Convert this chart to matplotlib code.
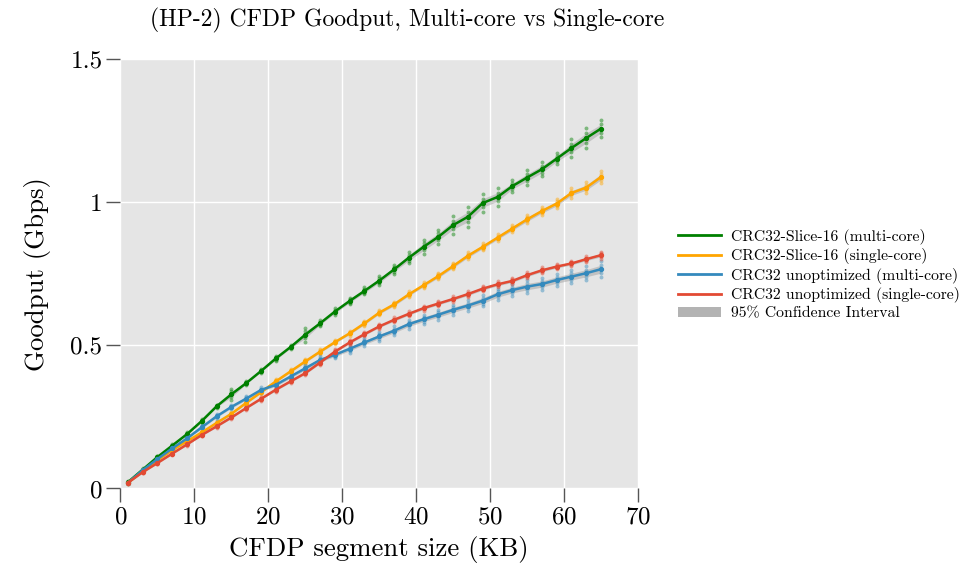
import numpy as np
import matplotlib
matplotlib.use("Agg")
import matplotlib.pyplot as plt
from matplotlib.lines import Line2D
from matplotlib.patches import Patch
from matplotlib.ticker import FuncFormatter

# segment sizes (KB)
seg_kb = list(range(1, 66, 2))

# mean goodput (Gbps) per segment size
slice16_multi = [0.022, 0.066, 0.110, 0.150, 0.190, 0.236, 0.287, 0.329, 0.368, 0.410, 0.454,
                 0.494, 0.537, 0.577, 0.618, 0.655, 0.690, 0.726, 0.765, 0.806, 0.844, 0.879,
                 0.920, 0.949, 0.997, 1.018, 1.056, 1.086, 1.115, 1.152, 1.189, 1.224, 1.257]
slice16_single = [0.020, 0.060, 0.099, 0.134, 0.165, 0.196, 0.229, 0.261, 0.299, 0.336, 0.374,
                  0.409, 0.444, 0.478, 0.511, 0.542, 0.577, 0.614, 0.643, 0.678, 0.710, 0.742,
                  0.777, 0.813, 0.844, 0.876, 0.908, 0.940, 0.969, 0.995, 1.032, 1.051, 1.088]
unopt_multi = [0.020, 0.064, 0.103, 0.140, 0.175, 0.214, 0.252, 0.285, 0.314, 0.344, 0.362,
               0.391, 0.420, 0.449, 0.467, 0.488, 0.510, 0.531, 0.551, 0.574, 0.591, 0.607,
               0.624, 0.639, 0.656, 0.678, 0.693, 0.705, 0.714, 0.728, 0.740, 0.752, 0.766]
unopt_single = [0.020, 0.057, 0.089, 0.122, 0.154, 0.187, 0.217, 0.248, 0.281, 0.313, 0.345,
                0.374, 0.403, 0.440, 0.478, 0.510, 0.539, 0.566, 0.589, 0.610, 0.630, 0.646,
                0.662, 0.679, 0.698, 0.713, 0.725, 0.745, 0.762, 0.775, 0.786, 0.801, 0.815]

# spread of the individual runs around the mean (half range, Gbps)
slice16_multi_spread = [0.004, 0.005, 0.005, 0.006, 0.006, 0.008, 0.006, 0.020, 0.006, 0.006, 0.010,
                        0.008, 0.025, 0.010, 0.012, 0.012, 0.012, 0.015, 0.015, 0.020, 0.025, 0.025,
                        0.030, 0.035, 0.030, 0.030, 0.020, 0.025, 0.025, 0.020, 0.030, 0.035, 0.030]
slice16_single_spread = [0.003, 0.004, 0.004, 0.005, 0.005, 0.005, 0.006, 0.006, 0.006, 0.006, 0.007,
                         0.007, 0.008, 0.008, 0.008, 0.008, 0.009, 0.009, 0.010, 0.010, 0.010, 0.011,
                         0.012, 0.012, 0.012, 0.012, 0.013, 0.014, 0.014, 0.016, 0.016, 0.018, 0.020]
unopt_multi_spread = [0.003, 0.004, 0.005, 0.006, 0.006, 0.007, 0.008, 0.008, 0.009, 0.010, 0.010,
                      0.011, 0.012, 0.012, 0.013, 0.014, 0.014, 0.015, 0.015, 0.016, 0.016, 0.017,
                      0.018, 0.018, 0.020, 0.020, 0.020, 0.022, 0.022, 0.022, 0.024, 0.025, 0.028]
unopt_single_spread = [0.003, 0.004, 0.004, 0.005, 0.005, 0.005, 0.006, 0.006, 0.006, 0.006, 0.007,
                       0.007, 0.007, 0.008, 0.008, 0.008, 0.008, 0.008, 0.009, 0.009, 0.009, 0.009,
                       0.009, 0.010, 0.010, 0.010, 0.010, 0.010, 0.010, 0.010, 0.010, 0.010, 0.012]

series = [
    ("CRC32-Slice-16 (multi-core)", slice16_multi, slice16_multi_spread, "#008000"),
    ("CRC32-Slice-16 (single-core)", slice16_single, slice16_single_spread, "#FFA500"),
    ("CRC32 unoptimized (multi-core)", unopt_multi, unopt_multi_spread, "#348ABD"),
    ("CRC32 unoptimized (single-core)", unopt_single, unopt_single_spread, "#E24A33"),
]

plt.rcParams.update({
    "font.family": "serif",
    "font.serif": ["cmr10"],
    "axes.formatter.use_mathtext": True,
    "mathtext.fontset": "cm",
})

fig = plt.figure(figsize=(9.67, 5.65), dpi=100)
ax = fig.add_axes([0.1246, 0.1354, 0.5352, 0.7602])
ax.set_facecolor("#E5E5E5")
ax.grid(True, color="white", linewidth=1.0)
ax.set_axisbelow(True)
for s in ax.spines.values():
    s.set_visible(False)

x = np.array(seg_kb)
for name, mean, spread, color in series:
    mean = np.array(mean)
    spread = np.array(spread)
    # confidence band
    ax.fill_between(x, mean - spread * 0.5, mean + spread * 0.5, color="#999999",
                    alpha=0.45, linewidth=0, zorder=2)
    # individual runs
    for f in (-1.0, -0.5, 0.5, 1.0):
        ax.scatter(x, mean + f * spread, s=8, color=color, alpha=0.45, linewidths=0, zorder=3)
    ax.plot(x, mean, color=color, linewidth=1.8, marker="o", markersize=2.8, zorder=4)

ax.set_xlim(0, 70)
ax.set_ylim(0, 1.5)
ax.set_xticks(range(0, 71, 10))
ax.set_yticks([0, 0.5, 1, 1.5])
ax.yaxis.set_major_formatter(FuncFormatter(lambda v, p: "%g" % v))
ax.tick_params(axis="both", direction="out", length=10, width=1, color="#555555",
               labelsize=18, pad=3)

ax.set_xlabel("CFDP segment size (KB)", fontsize=19.3, labelpad=5)
ax.set_ylabel("Goodput (Gbps)", fontsize=19.3, labelpad=14)
fig.text(150 / 967, 1 - 20 / 565, "(HP-2) CFDP Goodput, Multi-core vs Single-core",
         fontsize=17, ha="left", va="center")

handles = [Line2D([], [], color=c, linewidth=2) for _, _, _, c in series]
handles.append(Patch(facecolor="#B3B3B3", edgecolor="none"))
labels = [n for n, _, _, _ in series] + ["95% Confidence Interval"]
fig.legend(handles, labels, loc="center left", bbox_to_anchor=(0.695, 0.514),
           frameon=False, fontsize=11.3, handlelength=2.7, handletextpad=0.65,
           labelspacing=0.22, borderaxespad=0)

fig.savefig("out.png", dpi=100)
